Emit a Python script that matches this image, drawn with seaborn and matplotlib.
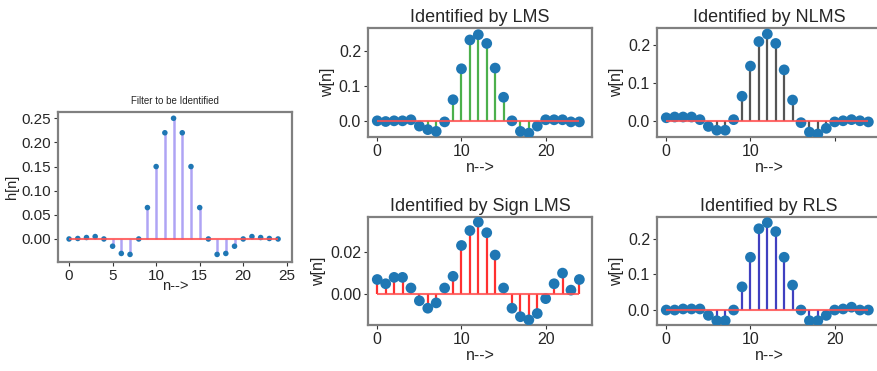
import numpy as np
import matplotlib
matplotlib.use("Agg")
import matplotlib.pyplot as plt
import seaborn as sns

sns.set_theme(style="white")
plt.rcParams["font.family"] = ["Liberation Sans", "DejaVu Sans"]

# taps
n = list(range(25))

# true filter
h_true = [0.0, 0.001, 0.003, 0.005, 0.0, -0.015, -0.03, -0.032, 0.0, 0.065,
          0.15, 0.22, 0.25, 0.22, 0.15, 0.065, 0.0, -0.032, -0.03, -0.015,
          0.0, 0.005, 0.003, 0.001, 0.0]

# identified weights
w_lms = [0.0, -0.002, 0.0, 0.0, 0.003, -0.015, -0.025, -0.03, -0.003, 0.06,
         0.148, 0.23, 0.245, 0.22, 0.15, 0.067, 0.0, -0.03, -0.035, -0.015,
         0.003, 0.003, 0.003, -0.003, -0.003]
w_nlms = [0.008, 0.01, 0.01, 0.01, 0.003, -0.015, -0.025, -0.025, 0.003, 0.065,
          0.145, 0.21, 0.23, 0.205, 0.135, 0.055, -0.005, -0.03, -0.035, -0.02,
          -0.003, 0.0, 0.003, 0.0, -0.003]
w_sign = [0.007, 0.005, 0.008, 0.008, 0.003, -0.003, -0.0065, -0.004, 0.003, 0.0085,
          0.023, 0.030, 0.034, 0.029, 0.0185, 0.003, -0.0065, -0.0105, -0.012, -0.009,
          -0.002, 0.005, 0.010, 0.002, 0.007]
w_rls = [0.0, 0.0, 0.003, 0.003, 0.003, -0.015, -0.03, -0.03, 0.0, 0.065,
         0.148, 0.228, 0.245, 0.22, 0.148, 0.07, 0.0, -0.03, -0.03, -0.015,
         0.0, 0.003, 0.008, 0.0, 0.0]

W, H = 878, 371
fig = plt.figure(figsize=(W / 100, H / 100), dpi=100)


def box(x0, y0, x1, y1):
    return [x0 / W, 1 - y1 / H, (x1 - x0) / W, (y1 - y0) / H]


def style(ax, fs):
    for s in ax.spines.values():
        s.set_color("#808080")
        s.set_linewidth(1.6)
    ax.tick_params(axis="both", which="both", bottom=True, left=True, length=3,
                   width=0.8, color="#333333", labelsize=fs, pad=2)


def stem(ax, x, y, stem_color, ms, stem_alpha=1.0, stem_lw=1.5):
    ax.vlines(x, 0, y, colors=stem_color, alpha=stem_alpha, linewidth=stem_lw, zorder=2)
    sns.scatterplot(x=x, y=y, ax=ax, color="#1f77b4", s=ms, edgecolor="none", zorder=3)
    ax.hlines(0, min(x), max(x), colors="#ff5050", linewidth=1.5, alpha=0.85, zorder=4)


# left: the true filter
ax0 = fig.add_axes(box(58, 112, 292, 262))
stem(ax0, n, h_true, "#7b68ee", 16, stem_alpha=0.6, stem_lw=1.8)
ax0.set_xlim(-1.27, 25.6)
ax0.set_ylim(-0.0477, 0.263)
ax0.set_xticks([0, 5, 10, 15, 20, 25])
ax0.set_yticks([0.0, 0.05, 0.10, 0.15, 0.20, 0.25])
ax0.set_yticklabels(["0.00", "0.05", "0.10", "0.15", "0.20", "0.25"])
style(ax0, 11)
ax0.set_title("Filter to be Identified", fontsize=7, pad=6)
ax0.set_xlabel("n-->", fontsize=10.5, labelpad=-3)
ax0.set_ylabel("h[n]", fontsize=10.5, labelpad=2)

panels = [
    ("Identified by LMS", w_lms, "#4cb04c", box(368, 28, 592, 137), (-0.046, 0.264)),
    ("Identified by NLMS", w_nlms, "#555555", box(657, 28, 881, 137), (-0.043, 0.246)),
    ("Identified by Sign LMS", w_sign, "#ff3030", box(368, 217, 592, 325), (-0.0144, 0.0364)),
    ("Identified by RLS", w_rls, "#4040c0", box(657, 217, 881, 325), (-0.042, 0.261)),
]

for title, w, col, rect, ylim in panels:
    ax = fig.add_axes(rect)
    stem(ax, n, w, col, 60, stem_lw=1.6)
    ax.set_xlim(-1.1, 25.5)
    ax.set_ylim(*ylim)
    ax.set_xticks([0, 10, 20])
    if title == "Identified by NLMS":
        ax.set_xticklabels(["0", "10", ""])
    if title == "Identified by Sign LMS":
        ax.set_yticks([0.0, 0.02])
        ax.set_yticklabels(["0.00", "0.02"])
    else:
        ax.set_yticks([0.0, 0.1, 0.2])
        ax.set_yticklabels(["0.0", "0.1", "0.2"])
    style(ax, 11.5)
    ax.set_title(title, fontsize=13, pad=4)
    ax.set_xlabel("n-->", fontsize=11.5, labelpad=1)
    ax.set_ylabel("w[n]", fontsize=11.5, labelpad=3)

fig.savefig("out.png", dpi=100)
